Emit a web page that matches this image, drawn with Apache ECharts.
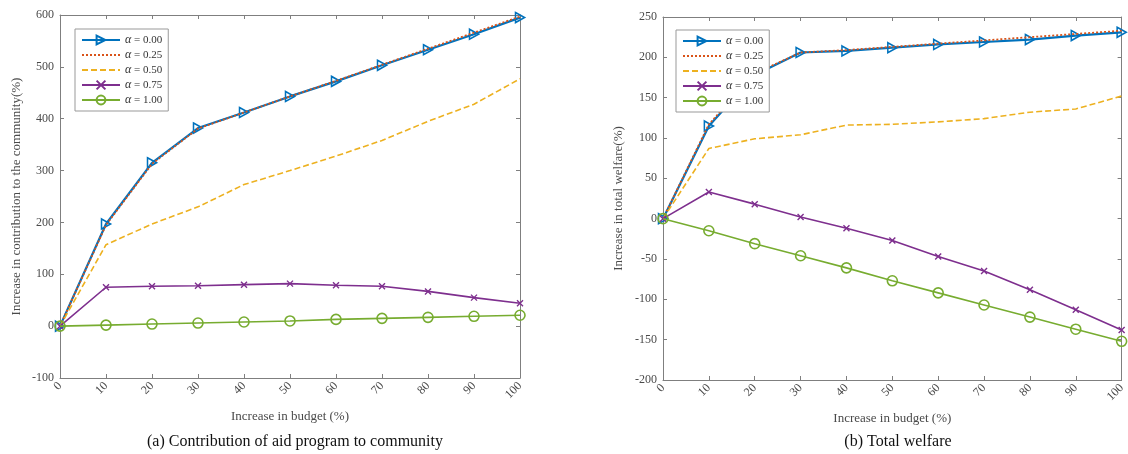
<!DOCTYPE html>
<html>
<head>
<meta charset="utf-8">
<script src="https://cdn.jsdelivr.net/npm/echarts@6/dist/echarts.min.js"></script>
<style>
  html, body { margin: 0; padding: 0; background: #fff; }
  #main { width: 1128px; height: 454px; }
</style>
</head>
<body>
<div id="main"></div>
<script>
// budget increase (%)
var budget = [0, 10, 20, 30, 40, 50, 60, 70, 80, 90, 100];
var alphas = ['0.00', '0.25', '0.50', '0.75', '1.00'];

// (a) contribution to community
var commA000 = [0, 197, 315, 382, 412, 443, 472, 503, 533, 563, 595];
var commA025 = [0, 195, 313, 381, 412, 443, 473, 504, 535, 566, 597];
var commA050 = [0, 157, 197, 230, 273, 300, 328, 358, 395, 428, 477];
var commA075 = [0, 75, 77, 78, 80, 82, 79, 77, 67, 55, 44];
var commA100 = [0, 2, 4, 6, 8, 10, 13, 15, 17, 19, 21];

// (b) total welfare
var welfA000 = [0, 115, 178, 206, 208, 212, 216, 219, 222, 227, 231];
var welfA025 = [0, 117, 180, 206, 209, 213, 217, 221, 225, 229, 233];
var welfA050 = [0, 87, 99, 104, 116, 117, 120, 124, 132, 136, 152];
var welfA075 = [0, 33, 18, 2, -12, -27, -47, -65, -88, -113, -138];
var welfA100 = [0, -15, -31, -46, -61, -77, -92, -107, -122, -137, -152];

var colors = ['#0072BD', '#D95319', '#EDB120', '#7E2F8E', '#77AC30'];
var serif = '"Liberation Serif", "DejaVu Serif", serif';
var axisGray = '#7f7f7f';
var textGray = '#4a4a4a';

function pairs(ys) {
    var out = [];
    for (var i = 0; i < budget.length; i++) {
        out.push([budget[i], ys[i]]);
    }
    return out;
}

function makeSeries(idx, vals, panel) {
    var name = 'a' + alphas[idx];
    var s = {
        name: name,
        type: 'line',
        xAxisIndex: panel * 2,
        yAxisIndex: panel * 2,
        data: pairs(vals),
        showSymbol: true,
        symbol: 'none',
        lineStyle: { color: colors[idx], width: 1.6 },
        itemStyle: { color: colors[idx] },
        animation: false,
        z: 2 + idx
    };
    if (idx === 0) {
        s.lineStyle.width = 2.2;
        s.symbol = 'path://M0,0L10,5L0,10Z';
        s.symbolSize = [9, 10];
        s.itemStyle = { color: 'rgba(0,0,0,0)', borderColor: colors[0], borderWidth: 1.6 };
    } else if (idx === 1) {
        s.lineStyle.type = [2, 2];
        s.lineStyle.width = 1.8;
    } else if (idx === 2) {
        s.lineStyle.type = [6, 3];
    } else if (idx === 3) {
        s.symbol = 'path://M0,0L10,10M10,0L0,10';
        s.symbolSize = 6;
        s.itemStyle = { color: colors[3], borderColor: colors[3], borderWidth: 1.4 };
    } else if (idx === 4) {
        s.symbol = 'circle';
        s.symbolSize = 10;
        s.itemStyle = { color: 'rgba(0,0,0,0)', borderColor: colors[4], borderWidth: 1.6 };
    }
    return s;
}

function makeLegend(left, top) {
    var items = alphas.map(function (a, k) {
        var it = { name: 'a' + a };
        // plain line entries (dotted / dashed) carry no marker
        if (k === 1 || k === 2) {
            it.itemStyle = { opacity: 0 };
        }
        return it;
    });
    return {
        orient: 'vertical',
        left: left,
        top: top,
        itemWidth: 38,
        itemHeight: 11,
        itemGap: 3,
        padding: [5, 6, 5, 6],
        backgroundColor: '#fff',
        borderColor: '#999',
        borderWidth: 1,
        borderRadius: 0,
        data: items,
        formatter: function (n) { return '{a|α} = ' + n.substring(1); },
        textStyle: {
            fontFamily: serif,
            fontSize: 11,
            color: '#333',
            rich: { a: { fontFamily: serif, fontStyle: 'italic', fontSize: 12, color: '#333' } }
        }
    };
}

function xMain(gridIndex) {
    return {
        type: 'value', gridIndex: gridIndex, min: 0, max: 100, interval: 10,
        name: 'Increase in budget (%)', nameLocation: 'middle', nameGap: 32,
        nameTextStyle: { fontFamily: serif, fontSize: 13, color: textGray },
        axisLine: { show: true, onZero: false, lineStyle: { color: axisGray } },
        axisTick: { show: true, inside: true, length: 4, lineStyle: { color: axisGray } },
        axisLabel: { rotate: 45, fontFamily: serif, fontSize: 12, color: textGray, margin: 6 },
        splitLine: { show: false }
    };
}

function xTop(gridIndex) {
    return {
        type: 'value', gridIndex: gridIndex, position: 'top', min: 0, max: 100, interval: 10,
        axisLine: { show: true, onZero: false, lineStyle: { color: axisGray } },
        axisTick: { show: true, inside: true, length: 4, lineStyle: { color: axisGray } },
        axisLabel: { show: false },
        splitLine: { show: false }
    };
}

function yMain(gridIndex, min, max, step, title, gap) {
    return {
        type: 'value', gridIndex: gridIndex, min: min, max: max, interval: step,
        name: title, nameLocation: 'middle', nameGap: gap,
        nameTextStyle: { fontFamily: serif, fontSize: 13, color: textGray },
        axisLine: { show: true, onZero: false, lineStyle: { color: axisGray } },
        axisTick: { show: true, inside: true, length: 4, lineStyle: { color: axisGray } },
        axisLabel: { fontFamily: serif, fontSize: 12, color: textGray, margin: 6 },
        splitLine: { show: false }
    };
}

function yRight(gridIndex, min, max, step) {
    return {
        type: 'value', gridIndex: gridIndex, position: 'right', min: min, max: max, interval: step,
        axisLine: { show: true, onZero: false, lineStyle: { color: axisGray } },
        axisTick: { show: true, inside: true, length: 4, lineStyle: { color: axisGray } },
        axisLabel: { show: false },
        splitLine: { show: false }
    };
}

var commSets = [commA000, commA025, commA050, commA075, commA100];
var welfSets = [welfA000, welfA025, welfA050, welfA075, welfA100];
var seriesList = [];
for (var i = 0; i < 5; i++) seriesList.push(makeSeries(i, commSets[i], 0));
for (var j = 0; j < 5; j++) seriesList.push(makeSeries(j, welfSets[j], 1));

var myChart = echarts.init(document.getElementById('main'));
myChart.setOption({
    backgroundColor: '#fff',
    animation: false,
    title: [
        { text: '(a) Contribution of aid program to community', left: 290, top: 429, textAlign: 'center',
          textStyle: { fontFamily: serif, fontSize: 16, fontWeight: 'normal', color: '#111' } },
        { text: '(b) Total welfare', left: 893, top: 429, textAlign: 'center',
          textStyle: { fontFamily: serif, fontSize: 16, fontWeight: 'normal', color: '#111' } }
    ],
    legend: [makeLegend(75, 29), makeLegend(676, 30)],
    grid: [
        { left: 60, right: 608, top: 15, bottom: 76 },
        { left: 663, right: 5, top: 17, bottom: 74 }
    ],
    xAxis: [xMain(0), xTop(0), xMain(1), xTop(1)],
    yAxis: [
        yMain(0, -100, 600, 100, 'Increase in contribution to the community(%)', 37),
        yRight(0, -100, 600, 100),
        yMain(1, -200, 250, 50, 'Increase in total welfare(%)', 38),
        yRight(1, -200, 250, 50)
    ],
    series: seriesList
});
</script>
</body>
</html>
